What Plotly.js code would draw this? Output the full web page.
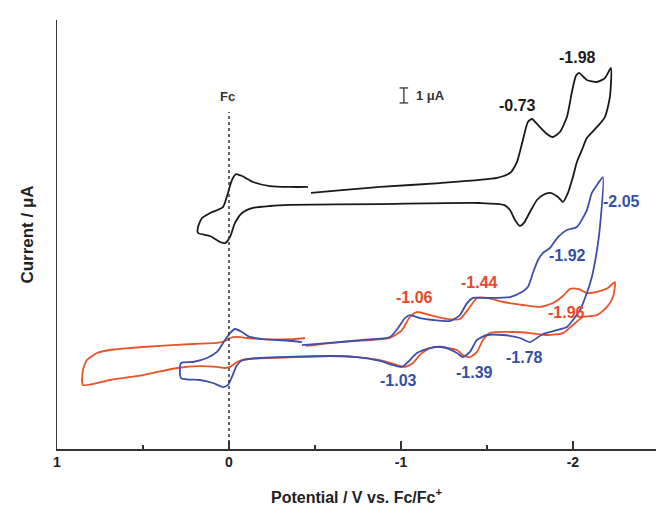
<!DOCTYPE html>
<html>
<head>
<meta charset="utf-8">
<script src="https://cdn.plot.ly/plotly-3.0.1.min.js"></script>
<style>html,body{margin:0;padding:0;background:#fff;}#chart{width:656px;height:514px;}</style>
</head>
<body>
<div id="chart"></div>
<script>
// Potential (V vs. Fc/Fc+) and current (μA, curves offset vertically)
const blackV = [-0.477,-0.674,-0.878,-1.227,-1.558,-1.634,-1.674,-1.709,-1.738,-1.762,-1.791,-1.849,-1.884,-1.924,-1.965,-1.994,-2.017,-2.035,-2.081,-2.140,-2.186,-2.221,-2.215,-2.186,-2.140,-2.081,-2.052,-2.023,-2.000,-1.971,-1.942,-1.913,-1.866,-1.826,-1.791,-1.750,-1.715,-1.692,-1.663,-1.634,-1.599,-1.459,-0.878,-0.355,-0.238,-0.140,-0.076,-0.035,-0.006,0.023,0.052,0.110,0.180,0.180,0.157,0.110,0.035,0.006,-0.017,-0.041,-0.076,-0.140,-0.238,-0.355,-0.459];
const blackI = [17.07,17.27,17.47,17.73,18.07,18.40,19.13,20.60,21.80,22.00,21.67,21.00,20.80,21.13,22.13,23.80,24.87,25.07,24.60,24.47,24.73,25.40,23.47,22.13,21.47,20.73,19.93,19.13,18.13,17.07,16.47,16.80,17.07,16.93,16.60,15.80,15.07,14.87,15.27,15.93,16.27,16.40,16.33,16.27,16.20,16.07,15.73,15.07,14.13,13.73,13.80,14.20,14.40,14.80,15.40,15.73,16.13,17.07,17.93,18.33,18.20,17.80,17.53,17.47,17.47];

const blueV = [-0.424,-0.587,-0.779,-0.936,-0.983,-1.023,-1.052,-1.110,-1.186,-1.285,-1.343,-1.384,-1.419,-1.500,-1.634,-1.703,-1.738,-1.767,-1.797,-1.826,-1.866,-1.913,-1.965,-2.023,-2.081,-2.110,-2.140,-2.174,-2.157,-2.140,-2.110,-2.081,-2.041,-2.000,-1.965,-1.907,-1.826,-1.750,-1.692,-1.593,-1.500,-1.442,-1.401,-1.360,-1.326,-1.244,-1.169,-1.093,-1.041,-1.006,-0.953,-0.878,-0.744,-0.587,-0.180,-0.081,-0.047,-0.017,0.006,0.035,0.093,0.169,0.279,0.279,0.209,0.128,0.070,0.023,-0.006,-0.035,-0.076,-0.122,-0.198,-0.372,-0.424];
const blueI = [6.93,7.07,7.27,7.47,8.07,8.73,8.93,8.73,8.60,8.53,8.93,9.73,10.07,10.07,10.13,10.47,10.80,11.73,12.60,13.07,13.40,14.13,14.60,14.80,15.93,17.07,17.60,18.13,14.80,13.27,11.47,10.40,9.27,8.60,8.13,7.93,7.67,7.13,7.40,7.60,7.60,7.27,6.47,6.13,6.40,6.80,6.73,6.40,5.80,5.47,5.60,5.87,6.13,6.20,6.07,5.93,5.60,4.80,4.27,4.13,4.40,4.60,4.73,5.73,5.80,6.07,6.47,7.27,7.73,8.00,7.80,7.47,7.33,7.20,7.13];

const redV = [-0.448,-0.645,-0.936,-1.006,-1.052,-1.093,-1.169,-1.267,-1.343,-1.401,-1.442,-1.500,-1.593,-1.709,-1.808,-1.884,-1.942,-1.983,-2.029,-2.081,-2.140,-2.203,-2.244,-2.233,-2.198,-2.140,-2.058,-2.000,-1.942,-1.849,-1.750,-1.651,-1.517,-1.477,-1.442,-1.401,-1.360,-1.326,-1.227,-1.169,-1.110,-1.070,-1.023,-0.977,-0.878,-0.744,-0.587,-0.279,-0.105,-0.047,-0.006,0.023,0.070,0.169,0.302,0.500,0.692,0.849,0.849,0.826,0.767,0.692,0.500,0.209,0.070,0.023,-0.006,-0.047,-0.105,-0.180,-0.372,-0.442];
const redI = [6.87,7.13,7.40,7.93,8.80,9.13,8.93,8.67,8.67,9.47,10.07,10.07,9.80,9.60,9.47,9.73,10.20,10.67,10.67,10.40,10.47,10.73,11.13,10.13,9.47,8.93,8.80,8.27,7.73,7.60,7.73,7.80,7.73,7.27,6.47,6.13,6.27,6.60,6.80,6.73,6.27,5.73,5.47,5.60,5.93,6.13,6.20,6.07,6.00,5.80,5.47,5.40,5.47,5.53,5.40,4.93,4.60,4.27,5.27,5.93,6.40,6.60,6.80,7.00,7.07,7.20,7.40,7.47,7.40,7.33,7.33,7.40];

// Peak labels
const blackLabels = ["-1.98", "-0.73"];
const blackLabelV = [-2.029, -1.680];
const blackLabelI = [26.07, 22.93];
const blueLabels = ["-2.05", "-1.92", "-1.03", "-1.39", "-1.78"];
const blueLabelV = [-2.285, -1.971, -0.983, -1.430, -1.721];
const blueLabelI = [16.47, 12.93, 4.60, 5.07, 6.13];
const redLabels = ["-1.44", "-1.06", "-1.96"];
const redLabelV = [-1.459, -1.081, -1.965];
const redLabelI = [11.07, 10.07, 9.07];

const xTickVals = [1, 0, -1, -2];
const xTickText = ["1", "0", "-1", "-2"];

const BLACK = "#1a1a1a", BLUE = "#3c4fae", RED = "#ea5228";
const BLUE_T = "#3450a6", RED_T = "#e8482a";
const FONT = "Liberation Sans, Arial, sans-serif";

const lineOpts = (c) => ({color: c, width: 1.8, shape: "spline", smoothing: 0.6});
const traces = [
  {x: redV, y: redI, mode: "lines", line: lineOpts(RED), hoverinfo: "skip", name: "red"},
  {x: blueV, y: blueI, mode: "lines", line: lineOpts(BLUE), hoverinfo: "skip", name: "blue"},
  {x: blackV, y: blackI, mode: "lines", line: lineOpts(BLACK), hoverinfo: "skip", name: "black"}
];

const ann = [];
function addLabels(txt, xs, ys, col) {
  txt.forEach((t, i) => ann.push({x: xs[i], y: ys[i], text: "<b>" + t + "</b>", showarrow: false,
    font: {family: FONT, size: 16, color: col}, xanchor: "center", yanchor: "middle"}));
}
addLabels(blackLabels, blackLabelV, blackLabelI, BLACK);
addLabels(blueLabels, blueLabelV, blueLabelI, BLUE_T);
addLabels(redLabels, redLabelV, redLabelI, RED_T);
ann.push({x: 0.01, y: 23.47, text: "<b>Fc</b>", showarrow: false, font: {family: FONT, size: 13, color: "#333"}, xanchor: "center", yanchor: "middle"});
ann.push({x: -1.075, y: 23.6, text: "<b>1 μA</b>", showarrow: false, font: {family: FONT, size: 13, color: "#333"}, xanchor: "left", yanchor: "middle"});

const scaleV = -1.017, scaleHalf = 0.025, scaleLo = 23.07, scaleHi = 24.07;
const shapes = [
  {type: "line", xref: "x", yref: "y", x0: 0, x1: 0, y0: 0, y1: 22.47, line: {color: "#333", width: 1.5, dash: "dot"}},
  {type: "line", xref: "x", yref: "y", x0: scaleV, x1: scaleV, y0: scaleLo, y1: scaleHi, line: {color: "#333", width: 1.3}},
  {type: "line", xref: "x", yref: "y", x0: scaleV - scaleHalf, x1: scaleV + scaleHalf, y0: scaleLo, y1: scaleLo, line: {color: "#333", width: 1.3}},
  {type: "line", xref: "x", yref: "y", x0: scaleV - scaleHalf, x1: scaleV + scaleHalf, y0: scaleHi, y1: scaleHi, line: {color: "#333", width: 1.3}}
];

const layout = {
  width: 656, height: 514,
  margin: {l: 57, r: 0, t: 20, b: 65},
  paper_bgcolor: "#fff", plot_bgcolor: "#fff",
  showlegend: false,
  font: {family: FONT, color: "#222"},
  xaxis: {
    range: [1, -2.483], showgrid: false, zeroline: false,
    showline: true, linecolor: "#333", linewidth: 1.5,
    tickmode: "array", tickvals: xTickVals, ticktext: xTickText,
    ticks: "inside", ticklen: 8, tickwidth: 1.3, tickcolor: "#333",
    minor: {tickmode: "array", tickvals: [0.5, -0.5, -1.5], ticks: "inside", ticklen: 4, tickwidth: 1.3, tickcolor: "#333"},
    tickfont: {family: FONT, size: 14, color: "#222", weight: "bold"},
    title: {text: "<b>Potential / V vs. Fc/Fc<sup>+</sup></b>", font: {family: FONT, size: 16, color: "#222"}, standoff: 22}
  },
  yaxis: {
    range: [0, 28.6], showgrid: false, zeroline: false,
    showline: true, linecolor: "#333", linewidth: 1.5,
    showticklabels: false, ticks: "",
    title: {text: "<b>Current / μA</b>", font: {family: FONT, size: 17, color: "#222"}, standoff: 17}
  },
  annotations: ann,
  shapes: shapes
};

Plotly.newPlot("chart", traces, layout, {staticPlot: true, displayModeBar: false});
</script>
</body>
</html>
